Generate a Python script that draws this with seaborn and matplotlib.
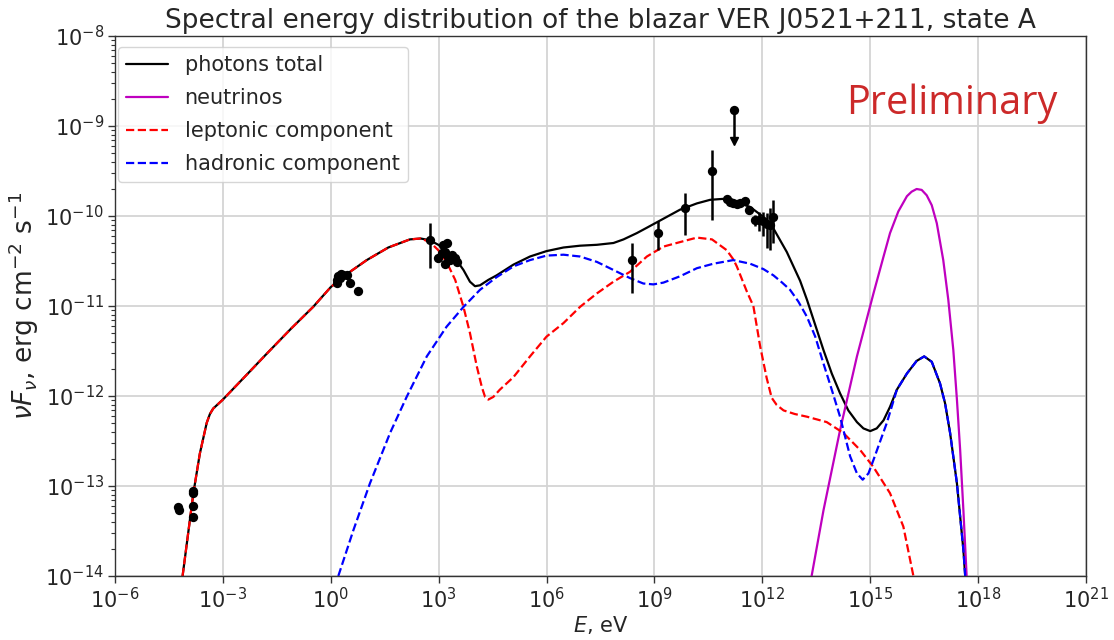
import numpy as np
import pandas as pd
import matplotlib
matplotlib.use("Agg")
import matplotlib.pyplot as plt
from matplotlib.ticker import NullLocator, LogLocator
import seaborn as sns

# ---------------- data (log10 values) ----------------
# leptonic component
lep_logE = [-4.12, -3.95, -3.82, -3.64, -3.45, -3.36, -3.27, -3.0, -2.4, -1.78, -1.1, -0.49, 0.0,
            0.5, 1.0, 1.6, 2.2, 2.5, 2.76, 2.99, 3.22, 3.46, 3.69, 3.87, 4.06, 4.20, 4.29, 4.38,
            4.52, 4.70, 5.08, 5.54, 6.0, 6.47, 6.93, 7.40, 7.86, 8.32, 8.79, 9.25, 9.71, 10.18,
            10.6, 11.01, 11.19, 11.29, 11.57, 11.75, 11.94, 12.12, 12.26, 12.4, 12.59, 12.9,
            13.24, 13.79, 14.25, 14.72, 15.09, 15.55, 15.92, 16.2]
lep_logF = [-14.0, -13.48, -13.08, -12.64, -12.30, -12.20, -12.14, -12.04, -11.79, -11.53, -11.25,
            -11.01, -10.79, -10.63, -10.49, -10.35, -10.26, -10.25, -10.29, -10.38, -10.51, -10.71,
            -11.01, -11.30, -11.67, -11.90, -12.01, -12.04, -12.01, -11.93, -11.79, -11.56, -11.34,
            -11.19, -11.01, -10.86, -10.73, -10.62, -10.45, -10.34, -10.29, -10.24, -10.26, -10.38,
            -10.48, -10.56, -10.84, -11.0, -11.45, -11.8, -12.02, -12.1, -12.16, -12.2, -12.23,
            -12.29, -12.41, -12.6, -12.79, -13.08, -13.45, -14.0]

# hadronic component
had_logE = [0.21, 0.63, 1.09, 1.65, 2.11, 2.67, 3.22, 3.69, 4.15, 4.61, 5.08, 5.54, 6.0, 6.47,
            6.93, 7.40, 7.86, 8.32, 8.69, 8.97, 9.25, 9.71, 10.18, 10.64, 11.19, 11.66, 12.03,
            12.31, 12.55, 12.77, 13.0, 13.24, 13.47, 13.70, 13.93, 14.16, 14.44, 14.63, 14.79,
            14.95, 15.09, 15.27, 15.46, 15.74, 16.02, 16.29, 16.50, 16.71, 16.94, 17.08, 17.22,
            17.41, 17.59, 17.64]
had_logF = [-14.0, -13.49, -12.97, -12.41, -12.01, -11.56, -11.23, -11.01, -10.82, -10.68, -10.56,
            -10.49, -10.44, -10.43, -10.45, -10.51, -10.60, -10.69, -10.75, -10.76, -10.74, -10.67,
            -10.58, -10.53, -10.49, -10.53, -10.59, -10.66, -10.74, -10.82, -10.95, -11.12, -11.34,
            -11.64, -11.93, -12.23, -12.67, -12.86, -12.93, -12.86, -12.71, -12.51, -12.30, -11.93,
            -11.75, -11.61, -11.56, -11.62, -11.86, -12.08, -12.41, -12.97, -13.71, -14.0]

# photons total
tot_logE = [-4.12, -3.95, -3.82, -3.64, -3.45, -3.36, -3.27, -3.0, -2.4, -1.78, -1.1, -0.49, 0.0,
            0.5, 1.0, 1.6, 2.2, 2.5, 2.76, 2.99, 3.22, 3.46, 3.69, 3.87, 4.01, 4.15, 4.38, 4.61,
            5.08, 5.54, 6.0, 6.47, 6.93, 7.40, 7.86, 8.14, 8.51, 8.79, 9.25, 9.71, 10.18, 10.55,
            10.9, 11.19, 11.66, 12.03, 12.31, 12.68, 13.05, 13.24, 13.47, 13.70, 13.93, 14.16,
            14.39, 14.63, 14.81, 15.0, 15.18, 15.37, 15.55, 15.74, 16.02, 16.29, 16.50, 16.71,
            16.94, 17.08, 17.22, 17.41, 17.59, 17.64]
tot_logF = [-14.0, -13.48, -13.08, -12.64, -12.30, -12.20, -12.14, -12.04, -11.79, -11.53, -11.25,
            -11.01, -10.79, -10.63, -10.49, -10.35, -10.26, -10.25, -10.27, -10.32, -10.38, -10.47,
            -10.60, -10.73, -10.78, -10.77, -10.71, -10.66, -10.54, -10.45, -10.39, -10.35, -10.33,
            -10.32, -10.30, -10.26, -10.19, -10.13, -10.03, -9.93, -9.86, -9.82, -9.81, -9.83,
            -9.90, -10.01, -10.14, -10.40, -10.72, -10.93, -11.21, -11.49, -11.75, -11.97, -12.16,
            -12.29, -12.36, -12.39, -12.36, -12.27, -12.12, -11.93, -11.75, -11.61, -11.56, -11.62,
            -11.86, -12.08, -12.41, -12.97, -13.71, -14.0]

# neutrinos
nu_logE = [13.37, 13.70, 14.16, 14.63, 15.09, 15.37, 15.55, 15.78, 16.02, 16.15, 16.29, 16.43,
           16.57, 16.71, 16.85, 17.03, 17.17, 17.31, 17.41, 17.50, 17.59, 17.68]
nu_logF = [-14.0, -13.27, -12.38, -11.56, -10.86, -10.45, -10.19, -9.95, -9.78, -9.73, -9.70,
           -9.71, -9.77, -9.88, -10.08, -10.49, -10.93, -11.49, -12.04, -12.6, -13.27, -14.0]

# measured points: log10 E, log10 flux, lower and upper error (dex)
pts_logE = [-4.24, -4.22, -3.82, -3.82, -3.82, -3.82,
            0.165, 0.17, 0.21, 0.25, 0.28, 0.35, 0.44, 0.54, 0.77,
            2.76, 2.99, 3.08, 3.13, 3.18, 3.18, 3.22, 3.27, 3.32, 3.36, 3.45, 3.50,
            8.37, 9.11, 9.85, 10.59,
            11.01, 11.10, 11.19, 11.29, 11.38, 11.52, 11.63, 11.80, 11.91, 12.03, 12.12, 12.21, 12.31]
pts_logF = [-13.23, -13.27, -13.06, -13.08, -13.22, -13.34,
            -10.71, -10.74, -10.67, -10.69, -10.64, -10.66, -10.65, -10.74, -10.83,
            -10.27, -10.47, -10.41, -10.32, -10.40, -10.53, -10.30, -10.45, -10.49, -10.43, -10.47, -10.51,
            -10.49, -10.19, -9.91, -9.50,
            -9.81, -9.84, -9.86, -9.87, -9.86, -9.83, -9.93, -10.04, -10.04, -10.06, -10.09, -10.10, -10.01]
pts_errlo = [0.02, 0.02, 0.02, 0.02, 0.03, 0.05,
             0.02, 0.02, 0.02, 0.02, 0.02, 0.02, 0.02, 0.02, 0.05,
             0.31, 0.04, 0.04, 0.04, 0.04, 0.04, 0.04, 0.04, 0.04, 0.04, 0.04, 0.04,
             0.37, 0.19, 0.30, 0.54,
             0.02, 0.02, 0.02, 0.02, 0.02, 0.02, 0.03, 0.07, 0.13, 0.16, 0.27, 0.28, 0.29]
pts_errhi = [0.02, 0.02, 0.02, 0.02, 0.03, 0.03,
             0.02, 0.02, 0.02, 0.02, 0.02, 0.02, 0.02, 0.02, 0.04,
             0.19, 0.04, 0.04, 0.04, 0.04, 0.04, 0.04, 0.04, 0.04, 0.04, 0.04, 0.04,
             0.19, 0.13, 0.17, 0.23,
             0.02, 0.02, 0.02, 0.02, 0.02, 0.02, 0.03, 0.05, 0.09, 0.10, 0.12, 0.19, 0.19]

# upper limit
ul_logE = [11.21]
ul_logF = [-8.82]
ul_tip_logF = [-9.17]

title = "Spectral energy distribution of the blazar VER J0521+211, state A"
xticks_exp = list(range(-6, 22, 3))
yticks_exp = list(range(-14, -7))

# ---------------- plotting ----------------
sns.set_style("white")
plt.rcParams["font.family"] = ["DejaVu Sans"]
plt.rcParams["mathtext.fontset"] = "dejavusans"

fig, ax = plt.subplots(figsize=(11.14, 6.4), dpi=100)
fig.subplots_adjust(left=0.1032, right=0.9749, bottom=0.1, top=0.94375)
ax.set_xscale("log")
ax.set_yscale("log")

def df(le, lf):
    return pd.DataFrame({"E": 10.0 ** np.array(le), "F": 10.0 ** np.array(lf)})

sns.lineplot(data=df(tot_logE, tot_logF), x="E", y="F", ax=ax, color="k", lw=1.6,
             label="photons total", estimator=None, sort=False)
sns.lineplot(data=df(nu_logE, nu_logF), x="E", y="F", ax=ax, color="m", lw=1.6,
             label="neutrinos", estimator=None, sort=False)
sns.lineplot(data=df(lep_logE, lep_logF), x="E", y="F", ax=ax, color="r", lw=1.6, ls="--",
             label="leptonic component", estimator=None, sort=False)
sns.lineplot(data=df(had_logE, had_logF), x="E", y="F", ax=ax, color="b", lw=1.6, ls="--",
             label="hadronic component", estimator=None, sort=False)

pE = 10.0 ** np.array(pts_logE)
pF = 10.0 ** np.array(pts_logF)
lo = pF - 10.0 ** (np.array(pts_logF) - np.array(pts_errlo))
hi = 10.0 ** (np.array(pts_logF) + np.array(pts_errhi)) - pF
ax.errorbar(pE, pF, yerr=[lo, hi], fmt="none", ecolor="k", elinewidth=1.8, capsize=0, zorder=4)
sns.scatterplot(x=pE, y=pF, ax=ax, color="k", s=45, edgecolor="k", linewidth=0, zorder=5,
                legend=False)

# upper limit with arrow
uE = 10.0 ** np.array(ul_logE)
uF = 10.0 ** np.array(ul_logF)
uT = 10.0 ** np.array(ul_tip_logF)
ax.errorbar(uE, uF, yerr=[uF - uT, np.zeros_like(uF)], fmt="none", ecolor="k",
            elinewidth=1.8, capsize=0, zorder=4)
sns.scatterplot(x=uE, y=uF, ax=ax, color="k", s=45, linewidth=0, zorder=5, legend=False)
ax.plot(uE, uT, marker="v", color="k", ms=6, ls="none", zorder=5)

ax.set_xlim(1e-6, 1e21)
ax.set_ylim(1e-14, 1e-8)
ax.set_xticks([10.0 ** e for e in xticks_exp])
ax.set_xticklabels([f"$10^{{{e}}}$" for e in xticks_exp])
ax.xaxis.set_minor_locator(NullLocator())
ax.set_yticks([10.0 ** e for e in yticks_exp])
ax.set_yticklabels([f"$10^{{{e}}}$" for e in yticks_exp])
ax.yaxis.set_minor_locator(LogLocator(base=10, subs=np.arange(2, 10), numticks=20))
ax.tick_params(axis="both", which="major", labelsize=15, length=5, width=1, direction="out",
               bottom=True, left=True, color="#333333", pad=3)
ax.tick_params(axis="y", which="minor", length=3, width=0.8, left=True, color="#333333")
ax.grid(True, which="major", color="#d4d4d4", lw=1.3)
for s in ax.spines.values():
    s.set_color("#333333")
    s.set_linewidth(1.0)

ax.set_xlabel("$E$, eV", fontsize=15, labelpad=1)
ax.set_ylabel(r"$\nu F_\nu$, erg cm$^{-2}$ s$^{-1}$", fontsize=19, labelpad=3)
ax.set_title(title, fontsize=19, pad=6)

leg = ax.legend(loc="upper left", bbox_to_anchor=(0.003, 0.98), borderaxespad=0, fontsize=15,
                frameon=True, handlelength=2.0, labelspacing=0.62)
leg.get_frame().set_edgecolor("#cccccc")

ax.text(0.753, 0.874, "Preliminary", transform=ax.transAxes, fontsize=28.5,
        color="#cc2929", family=["Open Sans", "DejaVu Sans"], ha="left", va="center")

fig.savefig("out.png", dpi=100)
